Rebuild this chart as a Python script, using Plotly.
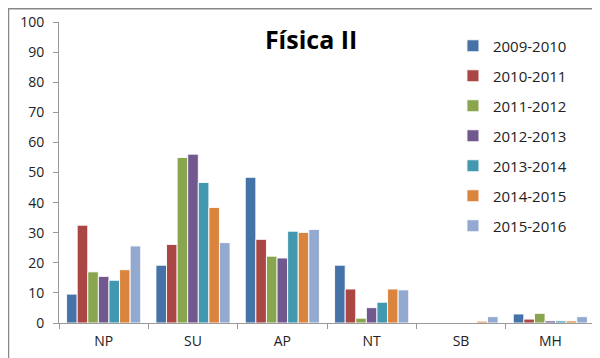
import plotly.graph_objects as go

categories = ["NP", "SU", "AP", "NT", "SB", "MH"]
years = ["2009-2010", "2010-2011", "2011-2012", "2012-2013",
         "2013-2014", "2014-2015", "2015-2016"]

v_2009_2010 = [9.6, 19.2, 48.4, 19.2, 0.0, 3.0]
v_2010_2011 = [32.5, 26.1, 27.8, 11.3, 0.0, 1.3]
v_2011_2012 = [17.0, 55.0, 22.2, 1.6, 0.0, 3.2]
v_2012_2013 = [15.5, 56.1, 21.6, 5.1, 0.0, 0.7]
v_2013_2014 = [14.2, 46.7, 30.5, 6.9, 0.0, 0.7]
v_2014_2015 = [17.7, 38.4, 30.1, 11.3, 0.6, 0.7]
v_2015_2016 = [25.6, 26.7, 31.1, 11.0, 2.1, 2.1]

series = [v_2009_2010, v_2010_2011, v_2011_2012, v_2012_2013,
          v_2013_2014, v_2014_2015, v_2015_2016]
colors = ["#4572A7", "#AA4643", "#89A54E", "#71588F",
          "#4198AF", "#DB843D", "#93A9CF"]

font = "Open Sans, Liberation Sans, sans-serif"

fig = go.Figure()
for name, vals, col in zip(years, series, colors):
    fig.add_trace(go.Bar(
        x=categories, y=vals, name=name, legendgroup=name,
        marker=dict(color=col, line=dict(color="rgba(255,255,255,0.9)", width=1)),
    ))

# page body has an 8px margin, so the figure is sized to fill what's left
fig.update_layout(
    width=592, height=350,
    margin=dict(l=51, r=5, t=14, b=35),
    paper_bgcolor="white", plot_bgcolor="white",
    barmode="group", bargap=0.17, bargroupgap=0.0,
    font=dict(family=font, size=14, color="#222"),
    title=dict(text="<b>Física II</b>", x=0.512, xanchor="center",
               y=0.909, yanchor="middle",
               font=dict(family=font, size=25, color="black")),
    legend=dict(x=0.735, y=0.975, xanchor="left", yanchor="top",
                bgcolor="rgba(0,0,0,0)", font=dict(size=15, color="#222"),
                tracegroupgap=7.5, itemwidth=30),
    showlegend=True,
)
fig.update_yaxes(range=[0, 100], dtick=10, showgrid=False, zeroline=False,
                 showline=True, linecolor="#999", linewidth=1,
                 ticks="outside", ticklen=5, tickcolor="#999",
                 ticklabelstandoff=6,
                 tickfont=dict(size=14, color="#222"))
fig.update_xaxes(showgrid=False, showline=True, linecolor="#999", linewidth=1,
                 ticks="outside", ticklen=5, tickcolor="#999",
                 tickson="boundaries", ticklabelstandoff=5,
                 tickfont=dict(size=14, color="#222"))

# outer chart border (runs off the visible frame on the right/bottom)
fig.add_shape(type="rect", xref="paper", yref="paper",
              x0=-50.5 / 536, x1=1.1, y0=-0.2, y1=1 + 13.2 / 301,
              line=dict(color="#888", width=1.5), layer="below")

fig.write_html("out.html")
